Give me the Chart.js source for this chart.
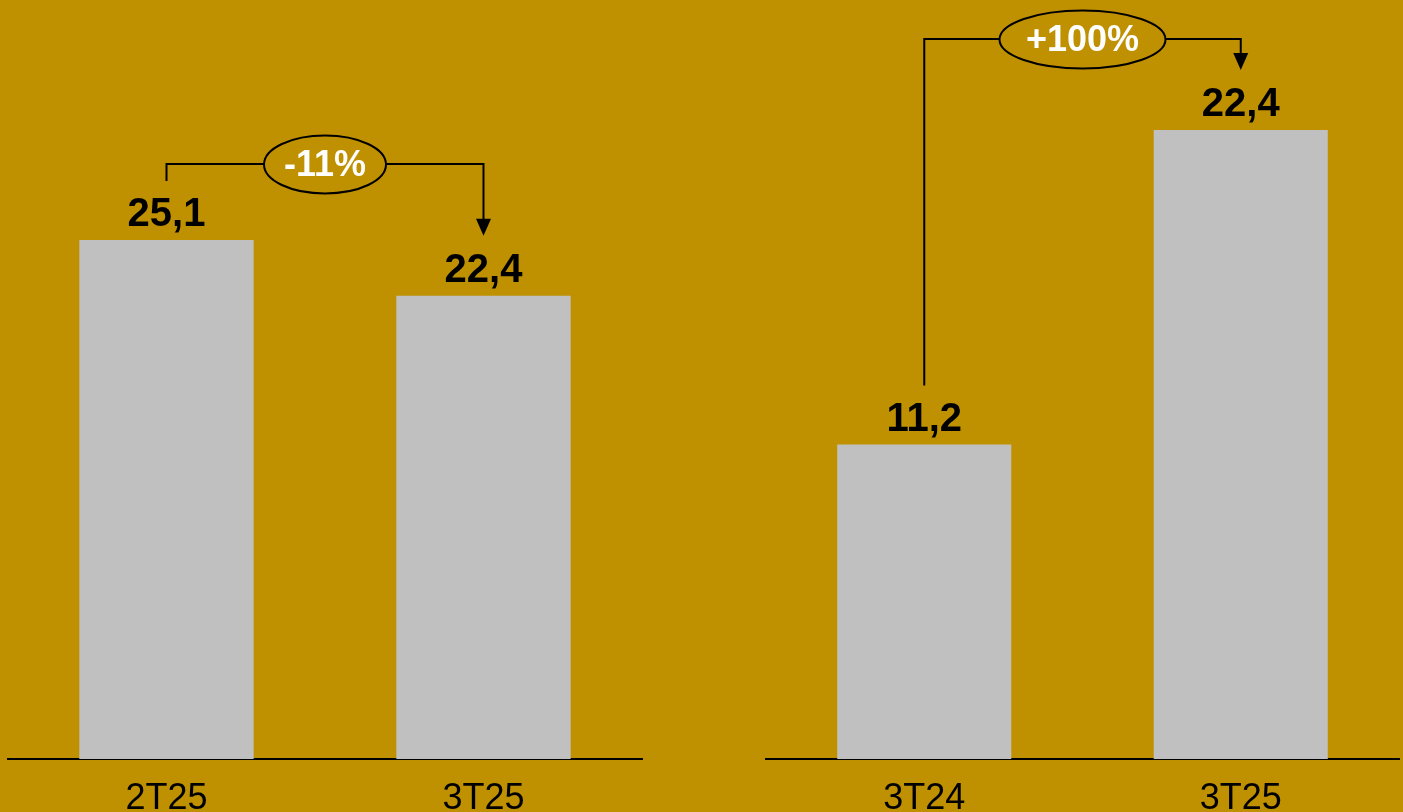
<!DOCTYPE html>
<html>
<head>
<meta charset="utf-8">
<script src="https://cdn.jsdelivr.net/npm/chart.js@4.4.1/dist/chart.umd.min.js"></script>
<style>
  html, body { margin: 0; padding: 0; background: #BF9000; overflow: hidden; }
  .panel { position: absolute; top: 0; height: 812px; }
  #leftPanel { left: 0; width: 700px; }
  #rightPanel { left: 700px; width: 703px; }
</style>
</head>
<body>
<div class="panel" id="leftPanel"><canvas id="leftChart"></canvas></div>
<div class="panel" id="rightPanel"><canvas id="rightChart"></canvas></div>
<script>
// chart values
const leftCategories = ['2T25', '3T25'];
const leftValues = [25.1, 22.4];
const leftChange = '-11%';

const rightCategories = ['3T24', '3T25'];
const rightValues = [11.2, 22.4];
const rightChange = '+100%';

const GOLD = '#BF9000';
const BAR_GRAY = '#C0C0C0';
const FONT = '"Liberation Sans", Arial, sans-serif';

const fmt = v => v.toFixed(1).replace('.', ',');

// value labels above each bar + bracket arrow with the change bubble
const annotatePlugin = {
    id: 'annotate',
    afterDatasetsDraw(chart, args, opts) {
        const ctx = chart.ctx;
        const bars = chart.getDatasetMeta(0).data;
        const values = chart.data.datasets[0].data;

        ctx.save();
        ctx.fillStyle = '#000';
        ctx.font = 'bold 40px ' + FONT;
        ctx.textAlign = 'center';
        ctx.textBaseline = 'alphabetic';
        bars.forEach((bar, i) => {
            ctx.fillText(fmt(values[i]), bar.x, bar.y - 14);
        });

        const from = bars[0], to = bars[1];
        const labelTopFrom = from.y - 14 - 30;
        const labelTopTo = to.y - 14 - 30;
        const yLine = opts.bracketY;

        ctx.strokeStyle = '#000';
        ctx.lineWidth = 2;
        ctx.beginPath();
        ctx.moveTo(from.x, labelTopFrom - 15);
        ctx.lineTo(from.x, yLine);
        ctx.lineTo(to.x, yLine);
        ctx.lineTo(to.x, labelTopTo - 32);
        ctx.stroke();

        // arrow head
        const tipY = labelTopTo - 16;
        ctx.beginPath();
        ctx.moveTo(to.x - 7.5, tipY - 17);
        ctx.lineTo(to.x + 7.5, tipY - 17);
        ctx.lineTo(to.x, tipY);
        ctx.closePath();
        ctx.fillStyle = '#000';
        ctx.fill();

        // bubble
        const cx = (from.x + to.x) / 2;
        ctx.beginPath();
        ctx.ellipse(cx, yLine + 0.5, opts.rx, 29, 0, 0, Math.PI * 2);
        ctx.fillStyle = GOLD;
        ctx.fill();
        ctx.stroke();

        ctx.fillStyle = '#fff';
        ctx.font = 'bold 36px ' + FONT;
        ctx.textBaseline = 'middle';
        ctx.fillText(opts.text, cx, yLine + 2);
        ctx.restore();
    }
};

function makeChart(id, categories, values, yMax, padding, annotation) {
    const ctx = document.getElementById(id);
    return new Chart(ctx, {
        type: 'bar',
        data: {
            labels: categories,
            datasets: [{
                data: values,
                backgroundColor: BAR_GRAY,
                borderWidth: 0,
                barPercentage: 0.55,
                categoryPercentage: 1
            }]
        },
        options: {
            responsive: true,
            maintainAspectRatio: false,
            animation: false,
            layout: { padding: padding },
            plugins: {
                legend: { display: false },
                tooltip: { enabled: false },
                annotate: annotation
            },
            scales: {
                x: {
                    grid: { display: false, drawTicks: false },
                    border: { display: true, color: '#000', width: 2 },
                    ticks: {
                        color: '#000',
                        font: { family: FONT, size: 36 },
                        padding: 18
                    },
                    afterFit: scale => { scale.height = 53; }
                },
                y: {
                    display: false,
                    min: 0,
                    max: yMax
                }
            }
        },
        plugins: [annotatePlugin]
    });
}

makeChart('leftChart', leftCategories, leftValues, 36.7,
    { top: 0, bottom: 0, left: 8, right: 58 },
    { text: leftChange, bracketY: 164, rx: 61 });

makeChart('rightChart', rightCategories, rightValues, 27.03,
    { top: 0, bottom: 0, left: 66, right: 4 },
    { text: rightChange, bracketY: 39, rx: 83 });
</script>
</body>
</html>
